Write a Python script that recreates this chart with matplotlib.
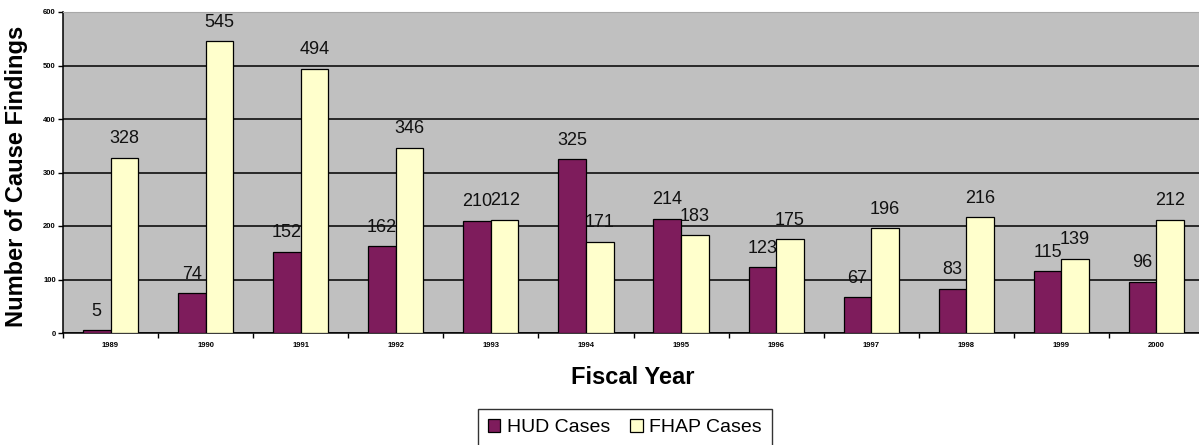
import numpy as np
import matplotlib
matplotlib.use('Agg')
import matplotlib.pyplot as plt

plt.rcParams['font.family'] = ['Liberation Sans', 'DejaVu Sans']

# data
years = ['1989', '1990', '1991', '1992', '1993', '1994', '1995', '1996', '1997', '1998', '1999', '2000']
hud_cases = [5, 74, 152, 162, 210, 325, 214, 123, 67, 83, 115, 96]
fhap_cases = [328, 545, 494, 346, 212, 171, 183, 175, 196, 216, 139, 212]

hud_color = '#7e1c5c'
fhap_color = '#ffffcc'
bg_color = '#c0c0c0'

fig = plt.figure(figsize=(11.99, 4.45), dpi=100)
ax = fig.add_axes([63 / 1199, 1 - 333 / 445, 1141 / 1199, 321 / 445])
ax.set_facecolor(bg_color)

x = np.arange(len(years))
w = 0.29
b1 = ax.bar(x - w / 2, hud_cases, w, color=hud_color, edgecolor='black', linewidth=0.9, zorder=3, label='HUD Cases')
b2 = ax.bar(x + w / 2, fhap_cases, w, color=fhap_color, edgecolor='black', linewidth=0.9, zorder=3, label='FHAP Cases')

# value labels (drawn under the bars, like the original)
for xs, vals in [(x - w / 2, hud_cases), (x + w / 2, fhap_cases)]:
    for xi, v in zip(xs, vals):
        ax.annotate(str(v), (xi, v), xytext=(0, 10.5), textcoords='offset points',
                    ha='center', va='baseline', fontsize=13, color='#111111', zorder=2.5)

ax.set_xlim(-0.5, len(years) - 0.5)
ax.set_ylim(0, 600)

ax.set_xticks(np.arange(-0.5, len(years)), labels=[])
ax.set_xticks(x, labels=years, minor=True)
ax.tick_params(axis='x', which='major', direction='out', length=3.6, width=1, color='black')
ax.tick_params(axis='x', which='minor', length=0, pad=6.5, labelsize=5.5)
for t in ax.get_xticklabels(minor=True):
    t.set_fontweight('bold')

ax.set_yticks(np.arange(0, 601, 100))
ax.tick_params(axis='y', direction='out', length=3.6, width=1, pad=1.5, labelsize=5.5)
for t in ax.get_yticklabels():
    t.set_fontweight('bold')

ax.set_axisbelow(True)
ax.yaxis.grid(True, color='black', linewidth=1.1)
ax.spines['left'].set_color('black')
ax.spines['bottom'].set_color('black')
ax.spines['left'].set_linewidth(1.1)
ax.spines['bottom'].set_linewidth(1.1)
ax.spines['top'].set_color('#a8a8a8')
ax.spines['right'].set_color('#808080')

fig.text(17 / 1199, 1 - 176 / 445, 'Number of Cause Findings', rotation=90,
         ha='center', va='center', fontsize=17, fontweight='bold')
fig.text(633 / 1199, 1 - 378 / 445, 'Fiscal Year', ha='center', va='center',
         fontsize=17, fontweight='bold')

leg = fig.legend(handles=[b1, b2], loc='upper left', bbox_to_anchor=(478 / 1199, 1 - 409 / 445),
                 ncol=2, fontsize=14, frameon=True, fancybox=False, borderpad=0.5,
                 handlelength=0.65, handleheight=0.65, handletextpad=0.35, columnspacing=1.0,
                 borderaxespad=0)
leg.get_frame().set_edgecolor('black')
leg.get_frame().set_linewidth(1.0)

fig.savefig('out.png', dpi=100)
